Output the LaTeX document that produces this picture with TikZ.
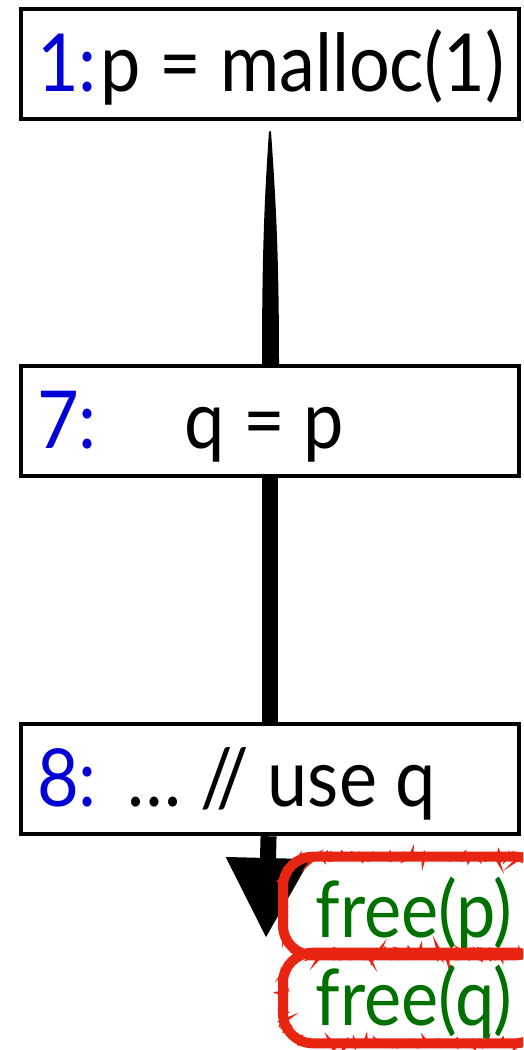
\documentclass[tikz,border=0pt]{standalone}
\usepackage{fontspec}
\setmainfont[FakeStretch=0.9]{Lato}
\usetikzlibrary{calc,arrows.meta,decorations.pathmorphing}

\definecolor{lineblue}{RGB}{0,0,215}
\definecolor{freegreen}{RGB}{0,112,0}
\definecolor{freered}{RGB}{232,36,18}
\newcommand{\lineno}[1]{\makebox[64pt][l]{\textcolor{lineblue}{#1}}}
\newcommand{\stmtline}[1]{\makebox[466pt][l]{#1}}

\begin{document}
\begin{tikzpicture}[x=1pt, y=-1pt,
  stmt/.style={draw, line width=4.5pt, fill=white, minimum width=498pt, minimum height=110pt,
    inner xsep=14pt, text height=64pt, text depth=10pt,
    font=\fontsize{80}{90}\selectfont},
  flow/.style={line width=16pt},
  freed/.style={anchor=west, minimum width=262pt, text=freegreen,
    text depth=15pt, font=\fontsize{78}{88}\selectfont,
    draw=freered, line width=10pt, rounded corners=30pt,
    postaction={draw=freered, line width=4pt, sharp corners, decorate,
      decoration={random steps, segment length=2pt, amplitude=3pt}}}]
  \useasboundingbox (0,0) rectangle (523,1050);
  \clip (0,0) rectangle (523,1050);
  % statements
  \node[stmt] (s1) at (270,64) {\stmtline{\lineno{1:}p = malloc(1)}};
  \node[stmt] (s7) at (270,421) {\stmtline{\lineno{7:}\hspace{84pt}q = p}};
  \node[stmt] (s8) at (270,779) {\stmtline{\lineno{8:}\hspace{27pt}… // use q}};
  % control flow
  \fill ($(s1.south)+(-1,10)$) .. controls ($(s1.south)+(-5,70)$) and ($(s7.north)+(-8,-120)$)
    .. ($(s7.north)+(-8,0)$) -- ($(s7.north)+(9,0)$)
    .. controls ($(s7.north)+(9,-120)$) and ($(s1.south)+(5,70)$) .. ($(s1.south)+(1,10)$) -- cycle;
  \draw[flow] (s7) -- (s8);
  \coordinate (tip) at (266,938);
  \draw[flow, -{Triangle[length=80pt, width=80pt]}] (s8) -- (tip);
  % freed pointers
  \node[freed, minimum height=82pt, text height=77pt] (fp) at (278,906) {free(p)};
  \node[freed, minimum height=88pt, text height=69pt] (fq) at (278,998) {free(q)};
\end{tikzpicture}
\end{document}
